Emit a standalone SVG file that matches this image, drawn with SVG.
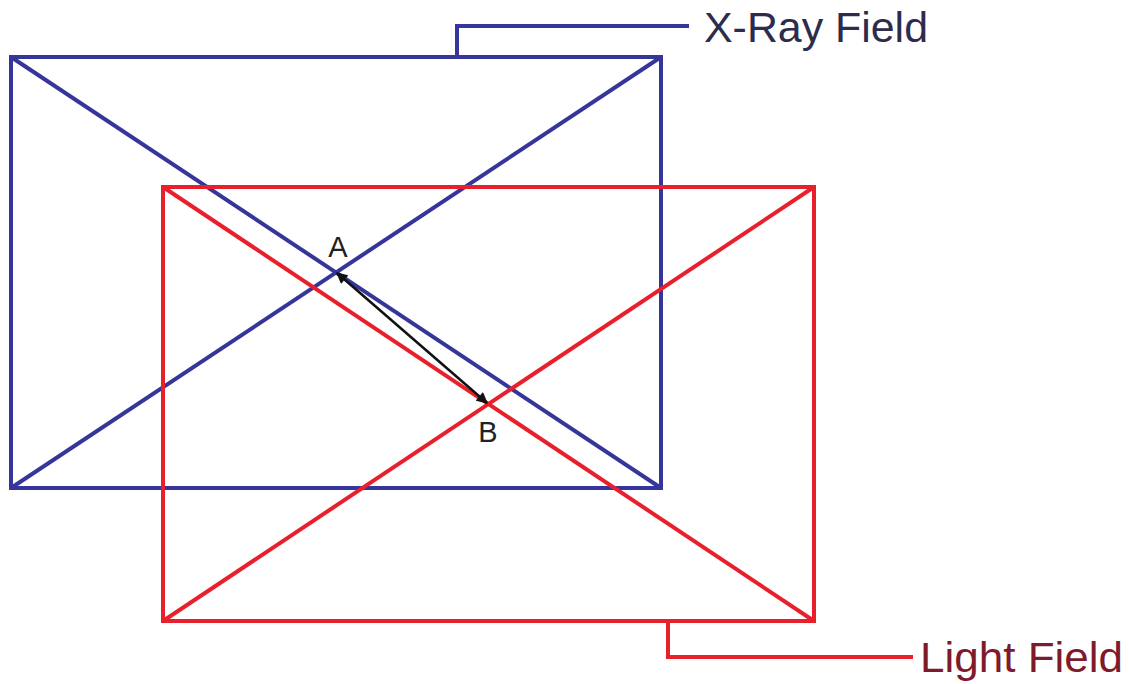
<svg xmlns="http://www.w3.org/2000/svg" width="1129" height="684" viewBox="0 0 1129 684">
<defs>
<style>
.blue{stroke:#35359a;stroke-width:4;fill:none}
.red{stroke:#e8202c;stroke-width:4;fill:none}
.lbl{font-family:"Liberation Sans",Arial,sans-serif}
</style>
<marker id="ah" viewBox="0 0 10 10" refX="9" refY="5" markerWidth="5" markerHeight="4.5" orient="auto-start-reverse" markerUnits="strokeWidth">
<path d="M0,0 L10,5 L0,10 z" fill="#111"/>
</marker>
</defs>
<rect width="1129" height="684" fill="#fff"/>
<g id="xray-field">
<rect class="blue" x="11" y="57" width="650" height="431"/>
<line class="blue" x1="11" y1="57" x2="661" y2="488"/>
<line class="blue" x1="11" y1="488" x2="661" y2="57"/>
</g>
<g id="light-field">
<rect class="red" x="163" y="187" width="651" height="434"/>
<line class="red" x1="163" y1="187" x2="814" y2="621"/>
<line class="red" x1="163" y1="621" x2="814" y2="187"/>
</g>
<g id="connectors">
<polyline class="blue" points="457,57 457,26 689,26"/>
<polyline class="red" points="668,621 668,657 913,657"/>
<line x1="337" y1="273" x2="487" y2="403" stroke="#111" stroke-width="2.5" marker-start="url(#ah)" marker-end="url(#ah)"/>
</g>
<g id="label-xray"><text class="lbl" x="704" y="42" font-size="43" fill="#2c2c4c" textLength="224" lengthAdjust="spacingAndGlyphs">X-Ray Field</text></g>
<g id="label-light"><text class="lbl" x="920" y="672" font-size="43" fill="#7e1a2c" textLength="203" lengthAdjust="spacingAndGlyphs">Light Field</text></g>
<g id="label-a"><text class="lbl" x="338" y="257" font-size="29" fill="#222" text-anchor="middle">A</text></g>
<g id="label-b"><text class="lbl" x="488" y="442" font-size="29" fill="#222" text-anchor="middle">B</text></g>
</svg>
